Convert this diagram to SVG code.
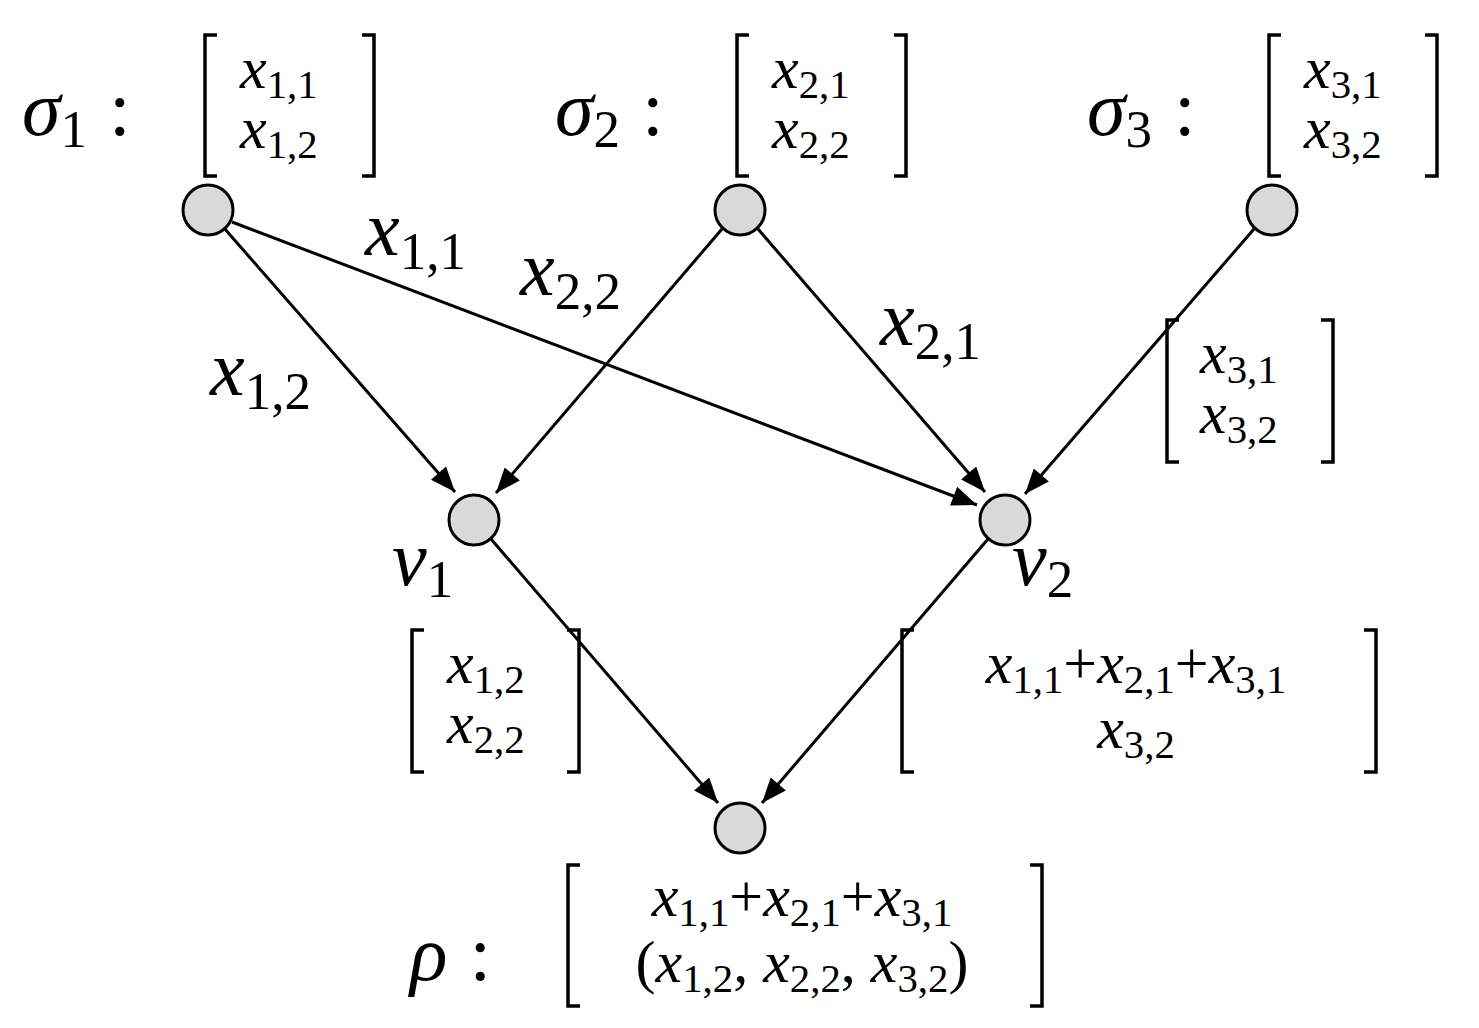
<svg xmlns="http://www.w3.org/2000/svg" width="1479" height="1028" viewBox="0 0 1479 1028">
<style>
.n{fill:#d9d9d9;stroke:#000;stroke-width:3}
.e{stroke:#000;stroke-width:3;fill:none}
.b{stroke:#000;stroke-width:3.5;fill:none}
text{font-family:"Liberation Serif","Times New Roman","DejaVu Serif",serif;font-style:italic;fill:#000}
.L{font-size:78px}
.M{font-size:60px}
.C{text-anchor:middle}
.s{font-size:0.68em;font-style:normal}
.u{font-style:normal}
</style>
<defs>
<marker id="A" viewBox="0 0 10 8" refX="10" refY="4" markerWidth="26" markerHeight="20" orient="auto" markerUnits="userSpaceOnUse"><path d="M0,0L10,4L0,8z" fill="#000"/></marker></defs>
<g id="connectors">
<line class="e" x1="224" y1="228" x2="455" y2="492" marker-end="url(#A)"/>
<line class="e" x1="722" y1="229" x2="496" y2="493" marker-end="url(#A)"/>
<line class="e" x1="232" y1="222" x2="977" y2="505" marker-end="url(#A)"/>
<line class="e" x1="758" y1="229" x2="985" y2="492" marker-end="url(#A)"/>
<line class="e" x1="1254" y1="229" x2="1025" y2="494" marker-end="url(#A)"/>
<line class="e" x1="491" y1="539" x2="718" y2="803" marker-end="url(#A)"/>
<line class="e" x1="988" y1="539" x2="762" y2="803" marker-end="url(#A)"/>
<text class="L" x="365" y="255">x<tspan class="s" dy="14">1,1</tspan></text>
<text class="L" x="520" y="295">x<tspan class="s" dy="14">2,2</tspan></text>
<text class="L" x="880" y="345">x<tspan class="s" dy="14">2,1</tspan></text>
<text class="L" x="210" y="395">x<tspan class="s" dy="14">1,2</tspan></text>
</g>
<g id="s1"><circle class="n" cx="208" cy="210" r="25"/>
<text class="L" x="22" y="135">σ<tspan class="s" dy="12">1</tspan><tspan class="u" dy="-12" dx="22">:</tspan></text>
<path class="b" d="M217,35H205V176H217M362,35H374V176H362"/>
<text class="M" x="240" y="88">x<tspan class="s" dy="10">1,1</tspan></text>
<text class="M" x="240" y="148">x<tspan class="s" dy="10">1,2</tspan></text></g>
<g id="s2"><circle class="n" cx="740" cy="210" r="25"/>
<text class="L" x="555" y="135">σ<tspan class="s" dy="12">2</tspan><tspan class="u" dy="-12" dx="22">:</tspan></text>
<path class="b" d="M749,35H737V176H749M894,35H906V176H894"/>
<text class="M" x="772" y="88">x<tspan class="s" dy="10">2,1</tspan></text>
<text class="M" x="772" y="148">x<tspan class="s" dy="10">2,2</tspan></text></g>
<g id="s3"><circle class="n" cx="1272" cy="210" r="25"/>
<text class="L" x="1087" y="135">σ<tspan class="s" dy="12">3</tspan><tspan class="u" dy="-12" dx="22">:</tspan></text>
<path class="b" d="M1281,35H1269V176H1281M1425,35H1437V176H1425"/>
<text class="M" x="1304" y="88">x<tspan class="s" dy="10">3,1</tspan></text>
<text class="M" x="1304" y="148">x<tspan class="s" dy="10">3,2</tspan></text>
<path class="b" d="M1179,320H1167V462H1179M1321,320H1333V462H1321"/>
<text class="M" x="1200" y="373">x<tspan class="s" dy="10">3,1</tspan></text>
<text class="M" x="1200" y="433">x<tspan class="s" dy="10">3,2</tspan></text></g>
<g id="v1"><circle class="n" cx="474" cy="520" r="25"/>
<text class="L" x="392" y="585">v<tspan class="s" dy="12">1</tspan></text>
<path class="b" d="M424,630H412V772H424M567,630H579V772H567"/>
<text class="M" x="447" y="683">x<tspan class="s" dy="10">1,2</tspan></text>
<text class="M" x="447" y="743">x<tspan class="s" dy="10">2,2</tspan></text></g>
<g id="v2"><circle class="n" cx="1005" cy="520" r="25"/>
<text class="L" x="1012" y="585">v<tspan class="s" dy="12">2</tspan></text>
<path class="b" d="M914,630H902V772H914M1364,630H1376V772H1364"/>
<text class="M C" x="1136" y="683">x<tspan class="s" dy="10">1,1</tspan><tspan class="u" dy="-10">+</tspan>x<tspan class="s" dy="10">2,1</tspan><tspan class="u" dy="-10">+</tspan>x<tspan class="s" dy="10">3,1</tspan></text>
<text class="M C" x="1136" y="748">x<tspan class="s" dy="10">3,2</tspan></text></g>
<g id="rho"><circle class="n" cx="740" cy="828" r="25"/>
<text class="L" x="410" y="980">ρ<tspan class="u" dx="22">:</tspan></text>
<path class="b" d="M580,865H568V1006H580M1030,865H1042V1006H1030"/>
<text class="M C" x="802" y="916">x<tspan class="s" dy="10">1,1</tspan><tspan class="u" dy="-10">+</tspan>x<tspan class="s" dy="10">2,1</tspan><tspan class="u" dy="-10">+</tspan>x<tspan class="s" dy="10">3,1</tspan></text>
<text class="M C" x="802" y="982"><tspan class="u">(</tspan>x<tspan class="s" dy="10">1,2</tspan><tspan class="u" dy="-10">, </tspan>x<tspan class="s" dy="10">2,2</tspan><tspan class="u" dy="-10">, </tspan>x<tspan class="s" dy="10">3,2</tspan><tspan class="u" dy="-10">)</tspan></text></g>
</svg>
